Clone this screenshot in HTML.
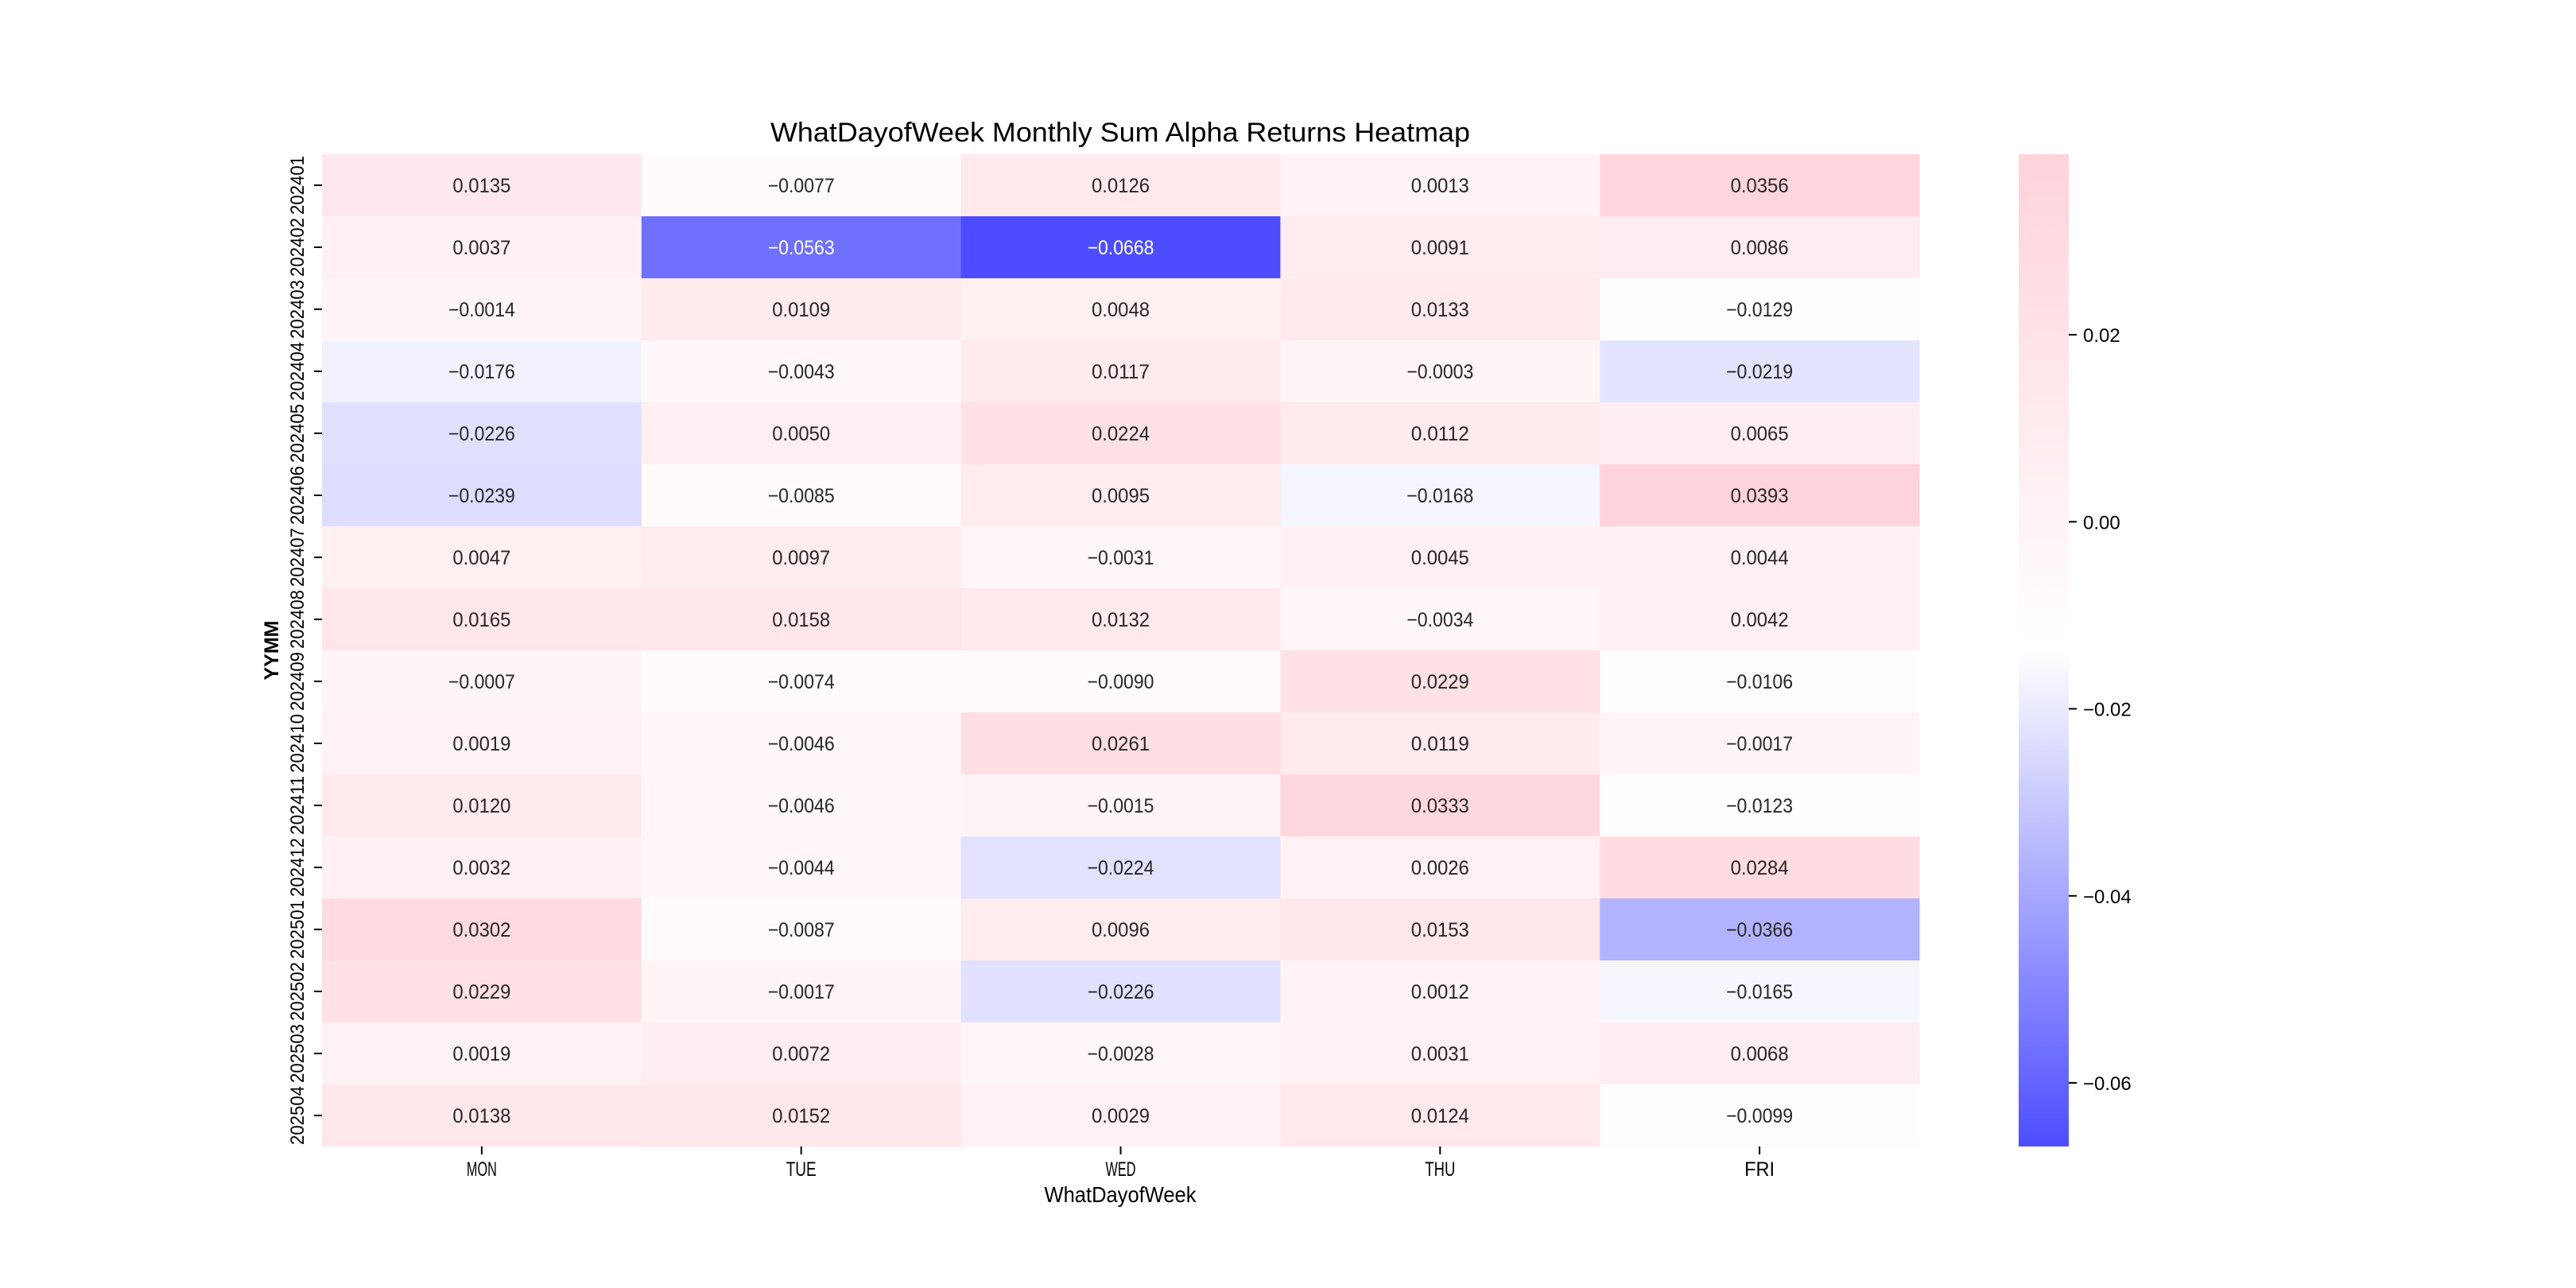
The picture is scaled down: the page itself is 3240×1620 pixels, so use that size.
<!DOCTYPE html>
<html><head><meta charset="utf-8"><style>
html,body{margin:0;padding:0;background:#fff;}
svg{display:block;}
text{font-family:"Liberation Sans","Noto Sans CJK SC",sans-serif;}
</style></head><body>
<svg id="chart" width="3240" height="1620" viewBox="0 0 3240 1620" xmlns="http://www.w3.org/2000/svg">
<defs>
<linearGradient id="cbgrad" x1="0" y1="1" x2="0" y2="0">
<stop offset="0" stop-color="rgb(77,77,255)"/>
<stop offset="0.5" stop-color="rgb(255,255,255)"/>
<stop offset="1" stop-color="rgb(255,211,219)"/>
</linearGradient>
</defs>
<text x="1409" y="178" font-size="34" text-anchor="middle" fill="#000" textLength="880" lengthAdjust="spacingAndGlyphs">WhatDayofWeek Monthly Sum Alpha Returns Heatmap</text>
<g id="cells"></g>
<g id="yticks"></g>
<g id="xticks"></g>
<text x="1409" y="1512" font-size="28" text-anchor="middle" fill="#000" textLength="191" lengthAdjust="spacingAndGlyphs">WhatDayofWeek</text>
<text transform="translate(350,818) rotate(-90)" font-size="25" font-weight="bold" text-anchor="middle" fill="#000">YYMM</text>
<rect x="2539" y="194" width="63" height="1248" fill="url(#cbgrad)"/>
<g id="cbticks"></g>
</svg>
<script>
const rows = ["202401","202402","202403","202404","202405","202406","202407","202408","202409","202410","202411","202412","202501","202502","202503","202504"];
const cols = ["MON","TUE","WED","THU","FRI"];
const MON = [0.0135,0.0037,-0.0014,-0.0176,-0.0226,-0.0239,0.0047,0.0165,-0.0007,0.0019,0.0120,0.0032,0.0302,0.0229,0.0019,0.0138];
const TUE = [-0.0077,-0.0563,0.0109,-0.0043,0.0050,-0.0085,0.0097,0.0158,-0.0074,-0.0046,-0.0046,-0.0044,-0.0087,-0.0017,0.0072,0.0152];
const WED = [0.0126,-0.0668,0.0048,0.0117,0.0224,0.0095,-0.0031,0.0132,-0.0090,0.0261,-0.0015,-0.0224,0.0096,-0.0226,-0.0028,0.0029];
const THU = [0.0013,0.0091,0.0133,-0.0003,0.0112,-0.0168,0.0045,-0.0034,0.0229,0.0119,0.0333,0.0026,0.0153,0.0012,0.0031,0.0124];
const FRI = [0.0356,0.0086,-0.0129,-0.0219,0.0065,0.0393,0.0044,0.0042,-0.0106,-0.0017,-0.0123,0.0284,-0.0366,-0.0165,0.0068,-0.0099];
const cbTicks = [0.02,0.00,-0.02,-0.04,-0.06];
const cbTickLabels = ["0.02","0.00","\u22120.02","\u22120.04","\u22120.06"];

const series = [MON,TUE,WED,THU,FRI];
const NS="http://www.w3.org/2000/svg";
const X0=405,X1=2414,Y0=194,Y1=1442;
const cw=(X1-X0)/cols.length, rh=(Y1-Y0)/rows.length;
let vmin=Infinity,vmax=-Infinity;
series.forEach(s=>s.forEach(v=>{vmin=Math.min(vmin,v);vmax=Math.max(vmax,v);}));
const xPos=i=>X0+i*cw;
const yPos=j=>Y0+j*rh;
const cbY=v=>Y1-(v-vmin)/(vmax-vmin)*(Y1-Y0);
function color(v){
  const t=(v-vmin)/(vmax-vmin);
  const lo=[77,77,255],mid=[255,255,255],hi=[255,211,219];
  let a,b,u;
  if(t<0.5){a=lo;b=mid;u=t/0.5;}else{a=mid;b=hi;u=(t-0.5)/0.5;}
  return `rgb(${a.map((c,k)=>Math.round(c+(b[k]-c)*u)).join(',')})`;
}
function dark(v){const t=(v-vmin)/(vmax-vmin);return t<0.2;}
function mk(tag,attrs,parent){const e=document.createElementNS(NS,tag);for(const k in attrs)e.setAttribute(k,attrs[k]);parent.appendChild(e);return e;}
const gc=document.getElementById('cells');
series.forEach((s,i)=>{
  s.forEach((v,j)=>{
    const r=mk('rect',{x:xPos(i),y:yPos(j),width:cw+0.5,height:rh+0.5,fill:color(v)},gc);
    
    
    const txt=(v<0?'\u2212':'')+Math.abs(v).toFixed(4);
    const t=mk('text',{x:xPos(i)+cw/2,y:yPos(j)+rh/2+9,'font-size':25,'text-anchor':'middle',fill:dark(v)?'#fff':'#262626',textLength:v<0?84:73,lengthAdjust:'spacingAndGlyphs'},gc);
    t.textContent=txt;
    
    
  });
});
const gy=document.getElementById('yticks');
rows.forEach((r,j)=>{
  const cy=yPos(j)+rh/2;
  const l=mk('line',{x1:X0-10,x2:X0,y1:cy,y2:cy,stroke:'#000','stroke-width':2},gy);
  
  
  const t=mk('text',{transform:`translate(382,${cy}) rotate(-90)`,'font-size':24,'text-anchor':'middle',fill:'#000',textLength:74,lengthAdjust:'spacingAndGlyphs'},gy);
  t.textContent=r;
  
  
});
const gx=document.getElementById('xticks');
cols.forEach((c,i)=>{
  const cx=xPos(i)+cw/2;
  const l=mk('line',{x1:cx,x2:cx,y1:Y1,y2:Y1+10,stroke:'#000','stroke-width':2},gx);
  
  
  const t=mk('text',{x:cx,y:1479,'font-size':25,'text-anchor':'middle',fill:'#000',textLength:38,lengthAdjust:'spacingAndGlyphs'},gx);
  t.textContent=c;
  
  
});
const gb=document.getElementById('cbticks');
cbTicks.forEach((v,k)=>{
  const y=cbY(v);
  const l=mk('line',{x1:2602,x2:2612,y1:y,y2:y,stroke:'#000','stroke-width':2},gb);
  
  
  const t=mk('text',{x:2620,y:y+9,'font-size':24,fill:'#000'},gb);
  t.textContent=cbTickLabels[k];
  
  
});
</script>
</body></html>
